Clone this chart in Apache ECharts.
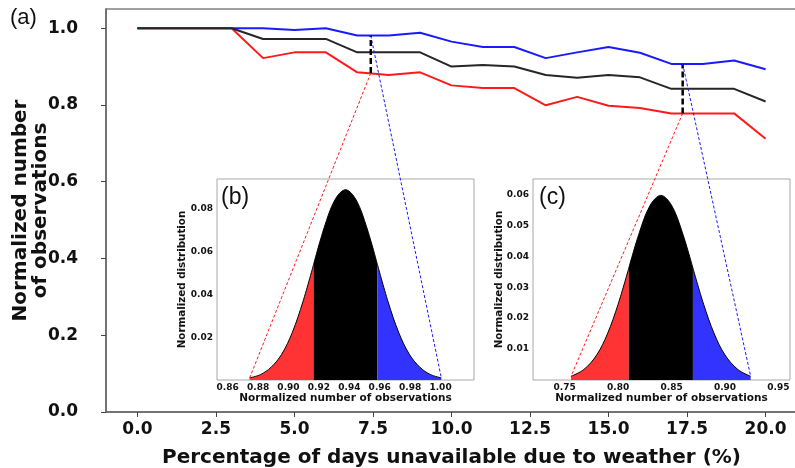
<!DOCTYPE html>
<html><head><meta charset="utf-8">
<script src="https://cdn.jsdelivr.net/npm/echarts@6/dist/echarts.min.js"></script>
<style>html,body{margin:0;padding:0;background:#fff}#c{width:795px;height:468px}</style>
</head><body><div id="c"></div>
<script>
// ---- data ----
const days = [0,1,2,3,4,5,6,7,8,9,10,11,12,13,14,15,16,17,18,19,20];
const upperObs = [1.0,1.0,1.0,1.0,1.0,0.995,1.0,0.981,0.981,0.988,0.965,0.951,0.951,0.922,0.937,0.951,0.936,0.907,0.907,0.916,0.893];
const meanObs  = [1.0,1.0,1.0,1.0,0.972,0.972,0.972,0.937,0.937,0.937,0.900,0.904,0.900,0.878,0.871,0.878,0.872,0.842,0.842,0.842,0.809];
const lowerObs = [1.0,1.0,1.0,1.0,0.922,0.937,0.937,0.885,0.878,0.885,0.851,0.844,0.844,0.799,0.821,0.798,0.792,0.778,0.778,0.778,0.712];
const xTicks = [0,2.5,5,7.5,10,12.5,15,17.5,20];
const yTicks = [0,0.2,0.4,0.6,0.8,1.0];
const markDays  = [7.43, 17.36];
const markLower = [0.883, 0.778];
const markUpper = [0.981, 0.907];

const distBX = [0.8745,0.8815,0.8885,0.8955,0.9025,0.9095,0.9165,0.9235,0.9305,0.9375,0.9445,0.9515,0.9585,0.9655,0.9725,0.9795,0.9865,0.9935,1.0005];
const distBY = [0.0010,0.0025,0.0059,0.0120,0.0222,0.0366,0.0540,0.0713,0.0842,0.0890,0.0842,0.0713,0.0540,0.0366,0.0222,0.0120,0.0059,0.0025,0.0010];
const splitB = [6, 12];
const bTicksX = [0.86,0.88,0.90,0.92,0.94,0.96,0.98,1.00];
const bTicksY = [0.02,0.04,0.06,0.08];

const distCX = [0.756,0.768,0.780,0.790,0.800,0.810,0.820,0.830,0.840,0.850,0.860,0.870,0.880,0.890,0.900,0.912,0.924];
const distCY = [0.0012,0.0034,0.0081,0.0149,0.0245,0.0362,0.0478,0.0565,0.0597,0.0565,0.0478,0.0362,0.0245,0.0149,0.0081,0.0034,0.0012];
const splitC = [5, 11];
const cTicksX = [0.75,0.80,0.85,0.90,0.95];
const cTicksY = [0.01,0.02,0.03,0.04,0.05,0.06];

// ---- chart ----
const FONT = 'DejaVu Sans';
const RED = '#ff1a1a', BLUE = '#1a1aff', BLK = '#262626';
const FILL_R = '#ff3333', FILL_B = '#3333ff';
const pairs = (xs, ys, a, b) => xs.slice(a, b + 1).map((x, i) => [x, ys[a + i]]);

const chart = echarts.init(document.getElementById('c'), null, {renderer: 'canvas'});

function insetX(idx, min, max, ticks) {
  return {
    type: 'value', gridIndex: idx, min: min, max: max,
    name: 'Normalized number of observations', nameLocation: 'middle', nameGap: 13, nameMoveOverlap: false,
    nameTextStyle: {fontFamily: FONT, fontWeight: 'bold', fontSize: 10.5, color: '#111'},
    axisLine: {show: false}, axisTick: {show: false}, splitLine: {show: false},
    axisLabel: {customValues: ticks, formatter: v => v.toFixed(2), margin: 3,
      fontFamily: FONT, fontWeight: 'bold', fontSize: 9, color: '#111'}
  };
}
function insetY(idx, min, max, ticks, gap) {
  return {
    type: 'value', gridIndex: idx, min: min, max: max,
    name: 'Normalized distribution', nameLocation: 'middle', nameGap: gap, nameMoveOverlap: false,
    nameTextStyle: {fontFamily: FONT, fontWeight: 'bold', fontSize: 10.3, color: '#111'},
    axisLine: {show: false}, axisTick: {show: false}, splitLine: {show: false},
    axisLabel: {customValues: ticks, formatter: v => v.toFixed(2), margin: 4,
      fontFamily: FONT, fontWeight: 'bold', fontSize: 9, color: '#111'}
  };
}
function distSeries(idx, xs, ys, split) {
  const segs = [[0, split[0], FILL_R], [split[0], split[1], '#000'], [split[1], xs.length - 1, FILL_B]];
  return segs.map(s => ({
    type: 'line', xAxisIndex: idx, yAxisIndex: idx, data: pairs(xs, ys, s[0], s[1]),
    smooth: 0.35, showSymbol: false, silent: true, z: 5,
    lineStyle: {color: '#000', width: 1}, areaStyle: {color: s[2], opacity: 1, origin: 'start'}
  }));
}

const series = [
  {type: 'line', data: days.map((d, i) => [d, upperObs[i]]), showSymbol: false, lineStyle: {color: BLUE, width: 2}, z: 3},
  {type: 'line', data: days.map((d, i) => [d, lowerObs[i]]), showSymbol: false, lineStyle: {color: RED, width: 2}, z: 3},
  {type: 'line', data: days.map((d, i) => [d, meanObs[i]]), showSymbol: false, lineStyle: {color: BLK, width: 2}, z: 4},
];
markDays.forEach((d, i) => series.push({
  type: 'line', data: [[d, markLower[i]], [d, markUpper[i]]], showSymbol: false, z: 6,
  lineStyle: {color: '#000', width: 2.5, type: [6, 3]}
}));
series.push(...distSeries(1, distBX, distBY, splitB));
series.push(...distSeries(2, distCX, distCY, splitC));

const panelTitle = (t, l, tp, fs) => ({text: t, left: l, top: tp, padding: 0,
  textStyle: {fontFamily: 'Liberation Sans', fontWeight: 'normal', fontSize: fs, color: '#111'}});

chart.setOption({
  animation: false,
  backgroundColor: '#fff',
  title: [panelTitle('(a)', 10, 7, 22), panelTitle('(b)', 221, 186, 23), panelTitle('(c)', 539, 186, 23)],
  grid: [
    {left: 106, right: -2, top: 9, bottom: 56, show: true, borderColor: '#808080', borderWidth: 1.5, backgroundColor: '#fff', outerBoundsMode: 'none', containLabel: false},
    {left: 217, top: 179, width: 257, height: 201, show: true, borderColor: '#a8a8a8', borderWidth: 1, backgroundColor: '#fff', z: 4, outerBoundsMode: 'none', containLabel: false},
    {left: 533, top: 179, width: 257, height: 201, show: true, borderColor: '#a8a8a8', borderWidth: 1, backgroundColor: '#fff', z: 4, outerBoundsMode: 'none', containLabel: false}
  ],
  xAxis: [
    {type: 'value', gridIndex: 0, min: -1, max: 21,
     name: 'Percentage of days unavailable due to weather (%)', nameLocation: 'middle', nameGap: 36, nameMoveOverlap: false,
     nameTextStyle: {fontFamily: FONT, fontWeight: 'bold', fontSize: 20, color: '#111'},
     axisLine: {show: true, onZero: false, lineStyle: {color: '#666', width: 1.5}},
     axisTick: {show: true, customValues: xTicks, length: 5, lineStyle: {color: '#444', width: 1}},
     splitLine: {show: false},
     axisLabel: {customValues: xTicks, formatter: v => v.toFixed(1), margin: 9,
       fontFamily: FONT, fontWeight: 'bold', fontSize: 17, color: '#111'}},
    insetX(1, 0.853, 1.022, bTicksX),
    insetX(2, 0.7204, 0.9608, cTicksX)
  ],
  yAxis: [
    {type: 'value', gridIndex: 0, min: 0, max: 1.05,
     name: 'Normalized number\nof observations', nameLocation: 'middle', nameGap: 55, nameMoveOverlap: false,
     nameTextStyle: {fontFamily: FONT, fontWeight: 'bold', fontSize: 20, lineHeight: 20, color: '#111'},
     axisLine: {show: true, onZero: false, lineStyle: {color: '#666', width: 1.5}},
     axisTick: {show: true, customValues: yTicks, length: 5, lineStyle: {color: '#444', width: 1}},
     splitLine: {show: false},
     axisLabel: {customValues: yTicks, formatter: v => v.toFixed(1), margin: 28,
       fontFamily: FONT, fontWeight: 'bold', fontSize: 17, color: '#111'}},
    insetY(1, 0, 0.094, bTicksY, 30),
    insetY(2, 0, 0.065, cTicksY, 29)
  ],
  series: series
});

// dashed connectors from the main chart to the tails of the inset distributions
function connector(p0, p1, color) {
  return {type: 'line', z: 100, silent: true,
    shape: {x1: p0[0], y1: p0[1], x2: p1[0], y2: p1[1]},
    style: {stroke: color, lineWidth: 1, lineDash: [3, 2]}};
}
const g = [];
const insets = [[1, distBX, distBY], [2, distCX, distCY]];
markDays.forEach((d, i) => {
  const [gi, xs, ys] = insets[i];
  const pLow = chart.convertToPixel({gridIndex: 0}, [d, markLower[i]]);
  const pUp = chart.convertToPixel({gridIndex: 0}, [d, markUpper[i]]);
  const tL = chart.convertToPixel({gridIndex: gi}, [xs[0], ys[0]]);
  const tR = chart.convertToPixel({gridIndex: gi}, [xs[xs.length - 1], ys[ys.length - 1]]);
  g.push(connector(pLow, tL, RED), connector(pUp, tR, BLUE));
});
chart.setOption({graphic: g});
</script></body></html>
